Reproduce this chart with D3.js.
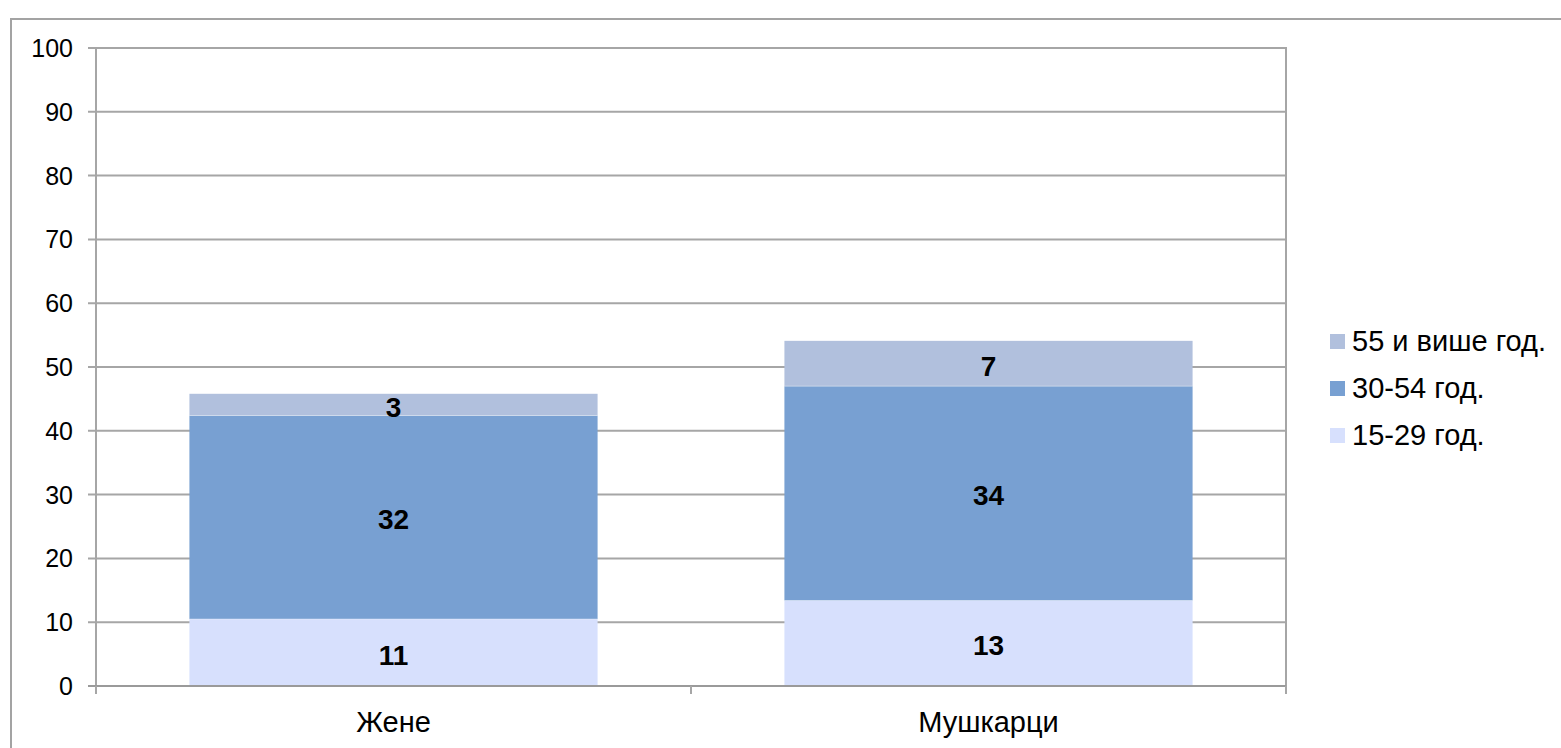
<!DOCTYPE html>
<html><head><meta charset="utf-8">
<script src="https://cdn.jsdelivr.net/npm/d3@7"></script>
<style>html,body{margin:0;padding:0;background:#fff;overflow:hidden}</style>
</head><body>
<svg id="c" width="1561" height="748"></svg>
<script>
const categories = ["Жене", "Мушкарци"];
const seriesNames = ["15-29 год.", "30-54 год.", "55 и више год."];
const v1529 = [10.5, 13.4];
const v3054 = [31.9, 33.6];
const v55 = [3.4, 7.1];
const yTicks = [0,10,20,30,40,50,60,70,80,90,100];
const colors = ["#d7e0fd", "#78a0d2", "#b1c0dd"];

const svg = d3.select("#c");
const L = 96, R = 1286, T = 48, B = 686;
const font = "'Liberation Sans', Arial, sans-serif";

// outer border
svg.append("rect").attr("x", 11).attr("y", 19).attr("width", 1600).attr("height", 800)
  .attr("fill", "none").attr("stroke", "#a3a3a3").attr("stroke-width", 2);

const x = d3.scaleBand().domain(categories).range([L, R]).padding(0);
const y = d3.scaleLinear().domain([0, 100]).range([B, T]);

// gridlines
svg.append("g").selectAll("line").data(yTicks).join("line")
  .attr("x1", L - 8).attr("x2", R).attr("y1", d => y(d)).attr("y2", d => y(d))
  .attr("stroke", "#a6a6a6").attr("stroke-width", 2);

// right border of plot
svg.append("line").attr("x1", R).attr("x2", R).attr("y1", T - 1).attr("y2", B + 8)
  .attr("stroke", "#a6a6a6").attr("stroke-width", 2);

// y axis labels
svg.append("g").selectAll("text").data(yTicks).join("text")
  .attr("x", 73).attr("y", d => y(d)).attr("dy", "0.36em")
  .attr("text-anchor", "end").attr("font-family", font).attr("font-size", 25)
  .attr("fill", "#000").text(d => d);

// stacked bars
const data = categories.map((c, i) => ({cat: c, s0: v1529[i], s1: v3054[i], s2: v55[i]}));
const stack = d3.stack().keys(["s0", "s1", "s2"]);
const stacked = stack(data);
const barW = x.bandwidth() * 0.686;

stacked.forEach((layer, li) => {
  svg.append("g").selectAll("rect").data(layer).join("rect")
    .attr("x", d => x(d.data.cat) + x.bandwidth() / 2 - barW / 2)
    .attr("width", barW)
    .attr("y", d => y(d[1]))
    .attr("height", d => y(d[0]) - y(d[1]))
    .attr("fill", colors[li]);
});

// boundary lighter lines
stacked.slice(1).forEach(layer => {
  svg.append("g").selectAll("line").data(layer).join("line")
    .attr("x1", d => x(d.data.cat) + x.bandwidth() / 2 - barW / 2)
    .attr("x2", d => x(d.data.cat) + x.bandwidth() / 2 + barW / 2)
    .attr("y1", d => y(d[0])).attr("y2", d => y(d[0]))
    .attr("stroke", "rgba(255,255,255,0.35)").attr("stroke-width", 1);
});

stacked.forEach(layer => {
  svg.append("g").selectAll("text").data(layer).join("text")
    .attr("x", d => x(d.data.cat) + x.bandwidth() / 2)
    .attr("y", d => (y(d[0]) + y(d[1])) / 2 + 2)
    .attr("dy", "0.36em").attr("text-anchor", "middle")
    .attr("font-family", font).attr("font-size", 28).attr("font-weight", "bold")
    .attr("fill", "#000").text(d => Math.round(d[1] - d[0]));
});

// left axis
svg.append("line").attr("x1", L).attr("x2", L).attr("y1", T - 1).attr("y2", B + 8)
  .attr("stroke", "#a6a6a6").attr("stroke-width", 2);
// bottom axis
svg.append("line").attr("x1", L - 8).attr("x2", R).attr("y1", B).attr("y2", B)
  .attr("stroke", "#9a9a9a").attr("stroke-width", 2);
// category ticks
const catTickXs = [L].concat(categories.map(c => x(c) + x.bandwidth()));
svg.append("g").selectAll("line").data(catTickXs).join("line")
  .attr("x1", d => d).attr("x2", d => d).attr("y1", B).attr("y2", B + 8)
  .attr("stroke", "#a6a6a6").attr("stroke-width", 2);

// category labels
svg.append("g").selectAll("text").data(categories).join("text")
  .attr("x", d => x(d) + x.bandwidth() / 2).attr("y", 722).attr("dy", "0.36em")
  .attr("text-anchor", "middle").attr("font-family", font).attr("font-size", 29)
  .attr("fill", "#000").text(d => d);

// legend
const legendOrder = [2, 1, 0];
const legendY = [341, 388, 435];
const lg = svg.append("g");
legendOrder.forEach((si, k) => {
  lg.append("rect").attr("x", 1330).attr("y", legendY[k] - 7).attr("width", 15).attr("height", 15)
    .attr("fill", colors[si]);
  lg.append("text").attr("x", 1352).attr("y", legendY[k]).attr("dy", "0.36em")
    .attr("font-family", font).attr("font-size", 29).attr("fill", "#000").text(seriesNames[si]);
});
</script>
</body></html>
